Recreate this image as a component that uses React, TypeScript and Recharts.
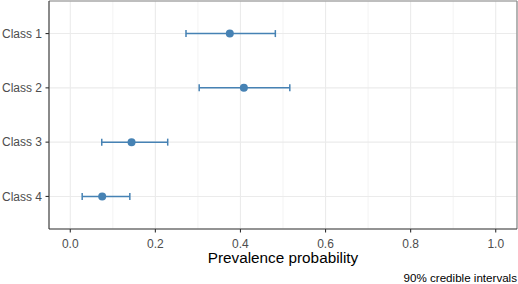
import { ScatterChart, Scatter, ErrorBar, XAxis, YAxis, CartesianGrid, ReferenceLine } from 'recharts';

const classes = ['Class 1', 'Class 2', 'Class 3', 'Class 4'];
const estimates = [0.375, 0.408, 0.144, 0.075];
const lower = [0.272, 0.303, 0.074, 0.028];
const upper = [0.482, 0.516, 0.229, 0.14];
const xTicks = [0, 0.2, 0.4, 0.6, 0.8, 1];
const xMinorTicks = [0.1, 0.3, 0.5, 0.7, 0.9];
const yTicks = [1, 2, 3, 4];

const data = classes.map((c, i) => ({
  pos: i + 1,
  cls: c,
  est: estimates[i],
  err: [estimates[i] - lower[i], upper[i] - estimates[i]],
}));

const FONT = '"Liberation Sans", Arial, Helvetica, sans-serif';
const BLUE = '#4682b4';
const GRID = '#ebebeb';

const Dot = (props: any) => <circle cx={props.cx} cy={props.cy} r={4} fill={BLUE} />;

export default function App() {
  return (
    <div style={{ position: 'absolute', left: 0, top: 0, width: 518, height: 284, background: '#fff', fontFamily: FONT }}>
      <ScatterChart width={518} height={284} margin={{ top: 1, right: 1, left: 0, bottom: 0 }}>
        <CartesianGrid stroke={GRID} strokeWidth={1.1} />
        {xMinorTicks.map((v) => (
          <ReferenceLine key={v} x={v} stroke={GRID} strokeWidth={0.6} />
        ))}
        <XAxis
          type="number"
          dataKey="est"
          domain={[-0.05, 1.05]}
          ticks={xTicks}
          allowDataOverflow
          height={55}
          tickSize={3.5}
          tickMargin={6.5}
          tickFormatter={(v: number) => v.toFixed(1)}
          tick={{ fill: '#4d4d4d', fontSize: 12, fontFamily: FONT }}
          axisLine={{ stroke: '#333', strokeWidth: 1.1 }}
          tickLine={{ stroke: '#333', strokeWidth: 1.1 }}
        />
        <YAxis
          type="number"
          dataKey="pos"
          domain={[0.4, 4.6]}
          ticks={yTicks}
          reversed
          allowDataOverflow
          width={49}
          tickSize={3.5}
          tickMargin={3.5}
          tickFormatter={(v: number) => classes[v - 1]}
          tick={{ fill: '#4d4d4d', fontSize: 12, fontFamily: FONT }}
          axisLine={{ stroke: '#333', strokeWidth: 1.1 }}
          tickLine={{ stroke: '#333', strokeWidth: 1.1 }}
        />
        <ReferenceLine y={0.4} stroke="#888" strokeWidth={1.2} />
        <ReferenceLine x={1.05} stroke="#888" strokeWidth={1.2} />
        <Scatter data={data} shape={Dot} isAnimationActive={false}>
          <ErrorBar dataKey="err" direction="x" stroke={BLUE} strokeWidth={1.5} width={3.5} />
        </Scatter>
      </ScatterChart>
      <div style={{ position: 'absolute', left: 49, width: 468, top: 250, fontSize: 15.3, lineHeight: '15.3px', textAlign: 'center', color: '#000' }}>
        Prevalence probability
      </div>
      <div style={{ position: 'absolute', right: 1, top: 271.7, fontSize: 11.6, lineHeight: '11.6px', color: '#000' }}>
        90% credible intervals
      </div>
    </div>
  );
}
